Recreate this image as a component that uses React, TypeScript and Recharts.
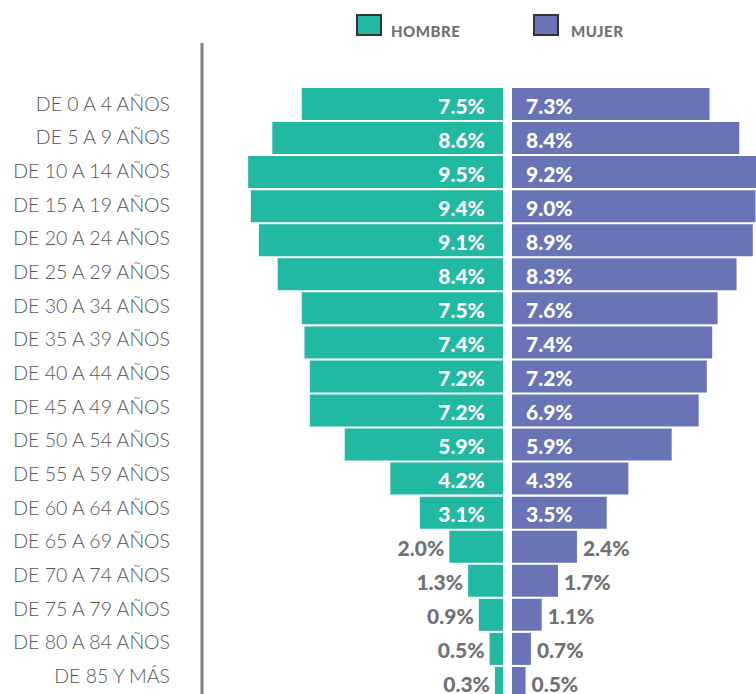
import React from "react";
import { BarChart, Bar, XAxis, YAxis, LabelList } from "recharts";

const categories = [
  "DE 0 A 4 AÑOS",
  "DE 5 A 9 AÑOS",
  "DE 10 A 14 AÑOS",
  "DE 15 A 19 AÑOS",
  "DE 20 A 24 AÑOS",
  "DE 25 A 29 AÑOS",
  "DE 30 A 34 AÑOS",
  "DE 35 A 39 AÑOS",
  "DE 40 A 44 AÑOS",
  "DE 45 A 49 AÑOS",
  "DE 50 A 54 AÑOS",
  "DE 55 A 59 AÑOS",
  "DE 60 A 64 AÑOS",
  "DE 65 A 69 AÑOS",
  "DE 70 A 74 AÑOS",
  "DE 75 A 79 AÑOS",
  "DE 80 A 84 AÑOS",
  "DE 85 Y MÁS",
];

const hombre = [7.5, 8.6, 9.5, 9.4, 9.1, 8.4, 7.5, 7.4, 7.2, 7.2, 5.9, 4.2, 3.1, 2.0, 1.3, 0.9, 0.5, 0.3];
const mujer = [7.3, 8.4, 9.2, 9.0, 8.9, 8.3, 7.6, 7.4, 7.2, 6.9, 5.9, 4.3, 3.5, 2.4, 1.7, 1.1, 0.7, 0.5];

const seriesNames = ["HOMBRE", "MUJER"];

const TEAL = "#21B9A1";
const PURPLE = "#6874B6";
const GREY_TEXT = "#707174";

const data = categories.map((c, i) => ({ label: c, hombre: hombre[i], mujer: mujer[i] }));

const FONT = "Lato, 'Open Sans', sans-serif";

const makeLabel = (side: "left" | "right") => (props: any) => {
  const { x, y, width, height, value } = props;
  const l = Math.min(x, x + width);
  const r = Math.max(x, x + width);
  const cy = y + height / 2 + 1;
  const inside = value >= 3;
  let tx: number;
  let anchor: "start" | "end";
  if (side === "left") {
    anchor = "end";
    tx = inside ? r - 18 : l - 5;
  } else {
    anchor = "start";
    tx = inside ? l + 14 : r + 6;
  }
  return (
    <text
      x={tx}
      y={cy}
      textAnchor={anchor}
      dominantBaseline="central"
      fill={inside ? "#ffffff" : GREY_TEXT}
      fontFamily={FONT}
      fontWeight={900}
      fontSize={21}
    >
      {value.toFixed(1) + "%"}
    </text>
  );
};

const CHART_H = 700;
const MARGIN = { top: 43, right: 0, bottom: 0, left: 0 };
const PAD = { top: 44, bottom: 0 };
const LABEL_PAD = { top: 44, bottom: 7 };

const legendText: React.CSSProperties = {
  fontFamily: FONT,
  fontWeight: 900,
  fontSize: 15,
  lineHeight: "15px",
  letterSpacing: 0.5,
  color: GREY_TEXT,
  marginBottom: -3,
};

export default function App() {
  return (
    <div
      style={{
        position: "absolute",
        left: 0,
        top: 0,
        width: 756,
        height: 694,
        overflow: "hidden",
        background: "#fff",
      }}
    >
      {/* Legend */}
      <div style={{ position: "absolute", left: 356, top: 14, display: "flex", alignItems: "flex-end" }}>
        <div style={{ width: 22, height: 18, background: TEAL, border: "2px solid #333" }} />
        <span style={{ ...legendText, marginLeft: 9 }}>{seriesNames[0]}</span>
      </div>
      <div style={{ position: "absolute", left: 533, top: 14, display: "flex", alignItems: "flex-end" }}>
        <div style={{ width: 22, height: 18, background: PURPLE, border: "2px solid #333" }} />
        <span style={{ ...legendText, marginLeft: 12 }}>{seriesNames[1]}</span>
      </div>

      <div style={{ position: "absolute", left: 0, top: 0 }}>
        <BarChart
          width={503}
          height={CHART_H}
          data={data}
          layout="vertical"
          margin={MARGIN}
          barSize={32}
        >
          <XAxis type="number" domain={[0, 11.22]} reversed hide allowDataOverflow />
          <YAxis yAxisId="bars" type="category" dataKey="label" hide padding={PAD} width={0} />
          <YAxis
            yAxisId="labels"
            type="category"
            dataKey="label"
            width={202}
            padding={LABEL_PAD}
            tickLine={false}
            tickSize={0}
            tickMargin={32}
            axisLine={{ stroke: "#808080", strokeWidth: 3 }}
            tick={{ fill: "#555555", fontFamily: FONT, fontWeight: 300, fontSize: 19.5 }}
            interval={0}
          />
          <Bar yAxisId="bars" dataKey="hombre" fill={TEAL} isAnimationActive={false}>
            <LabelList dataKey="hombre" content={makeLabel("left")} />
          </Bar>
        </BarChart>
      </div>

      <div style={{ position: "absolute", left: 512, top: 0 }}>
        <BarChart
          width={260}
          height={CHART_H}
          data={data}
          layout="vertical"
          margin={MARGIN}
          barSize={32}
        >
          <XAxis type="number" domain={[0, 9.61]} hide allowDataOverflow />
          <YAxis type="category" dataKey="label" hide padding={PAD} width={0} />
          <Bar dataKey="mujer" fill={PURPLE} isAnimationActive={false}>
            <LabelList dataKey="mujer" content={makeLabel("right")} />
          </Bar>
        </BarChart>
      </div>
    </div>
  );
}
